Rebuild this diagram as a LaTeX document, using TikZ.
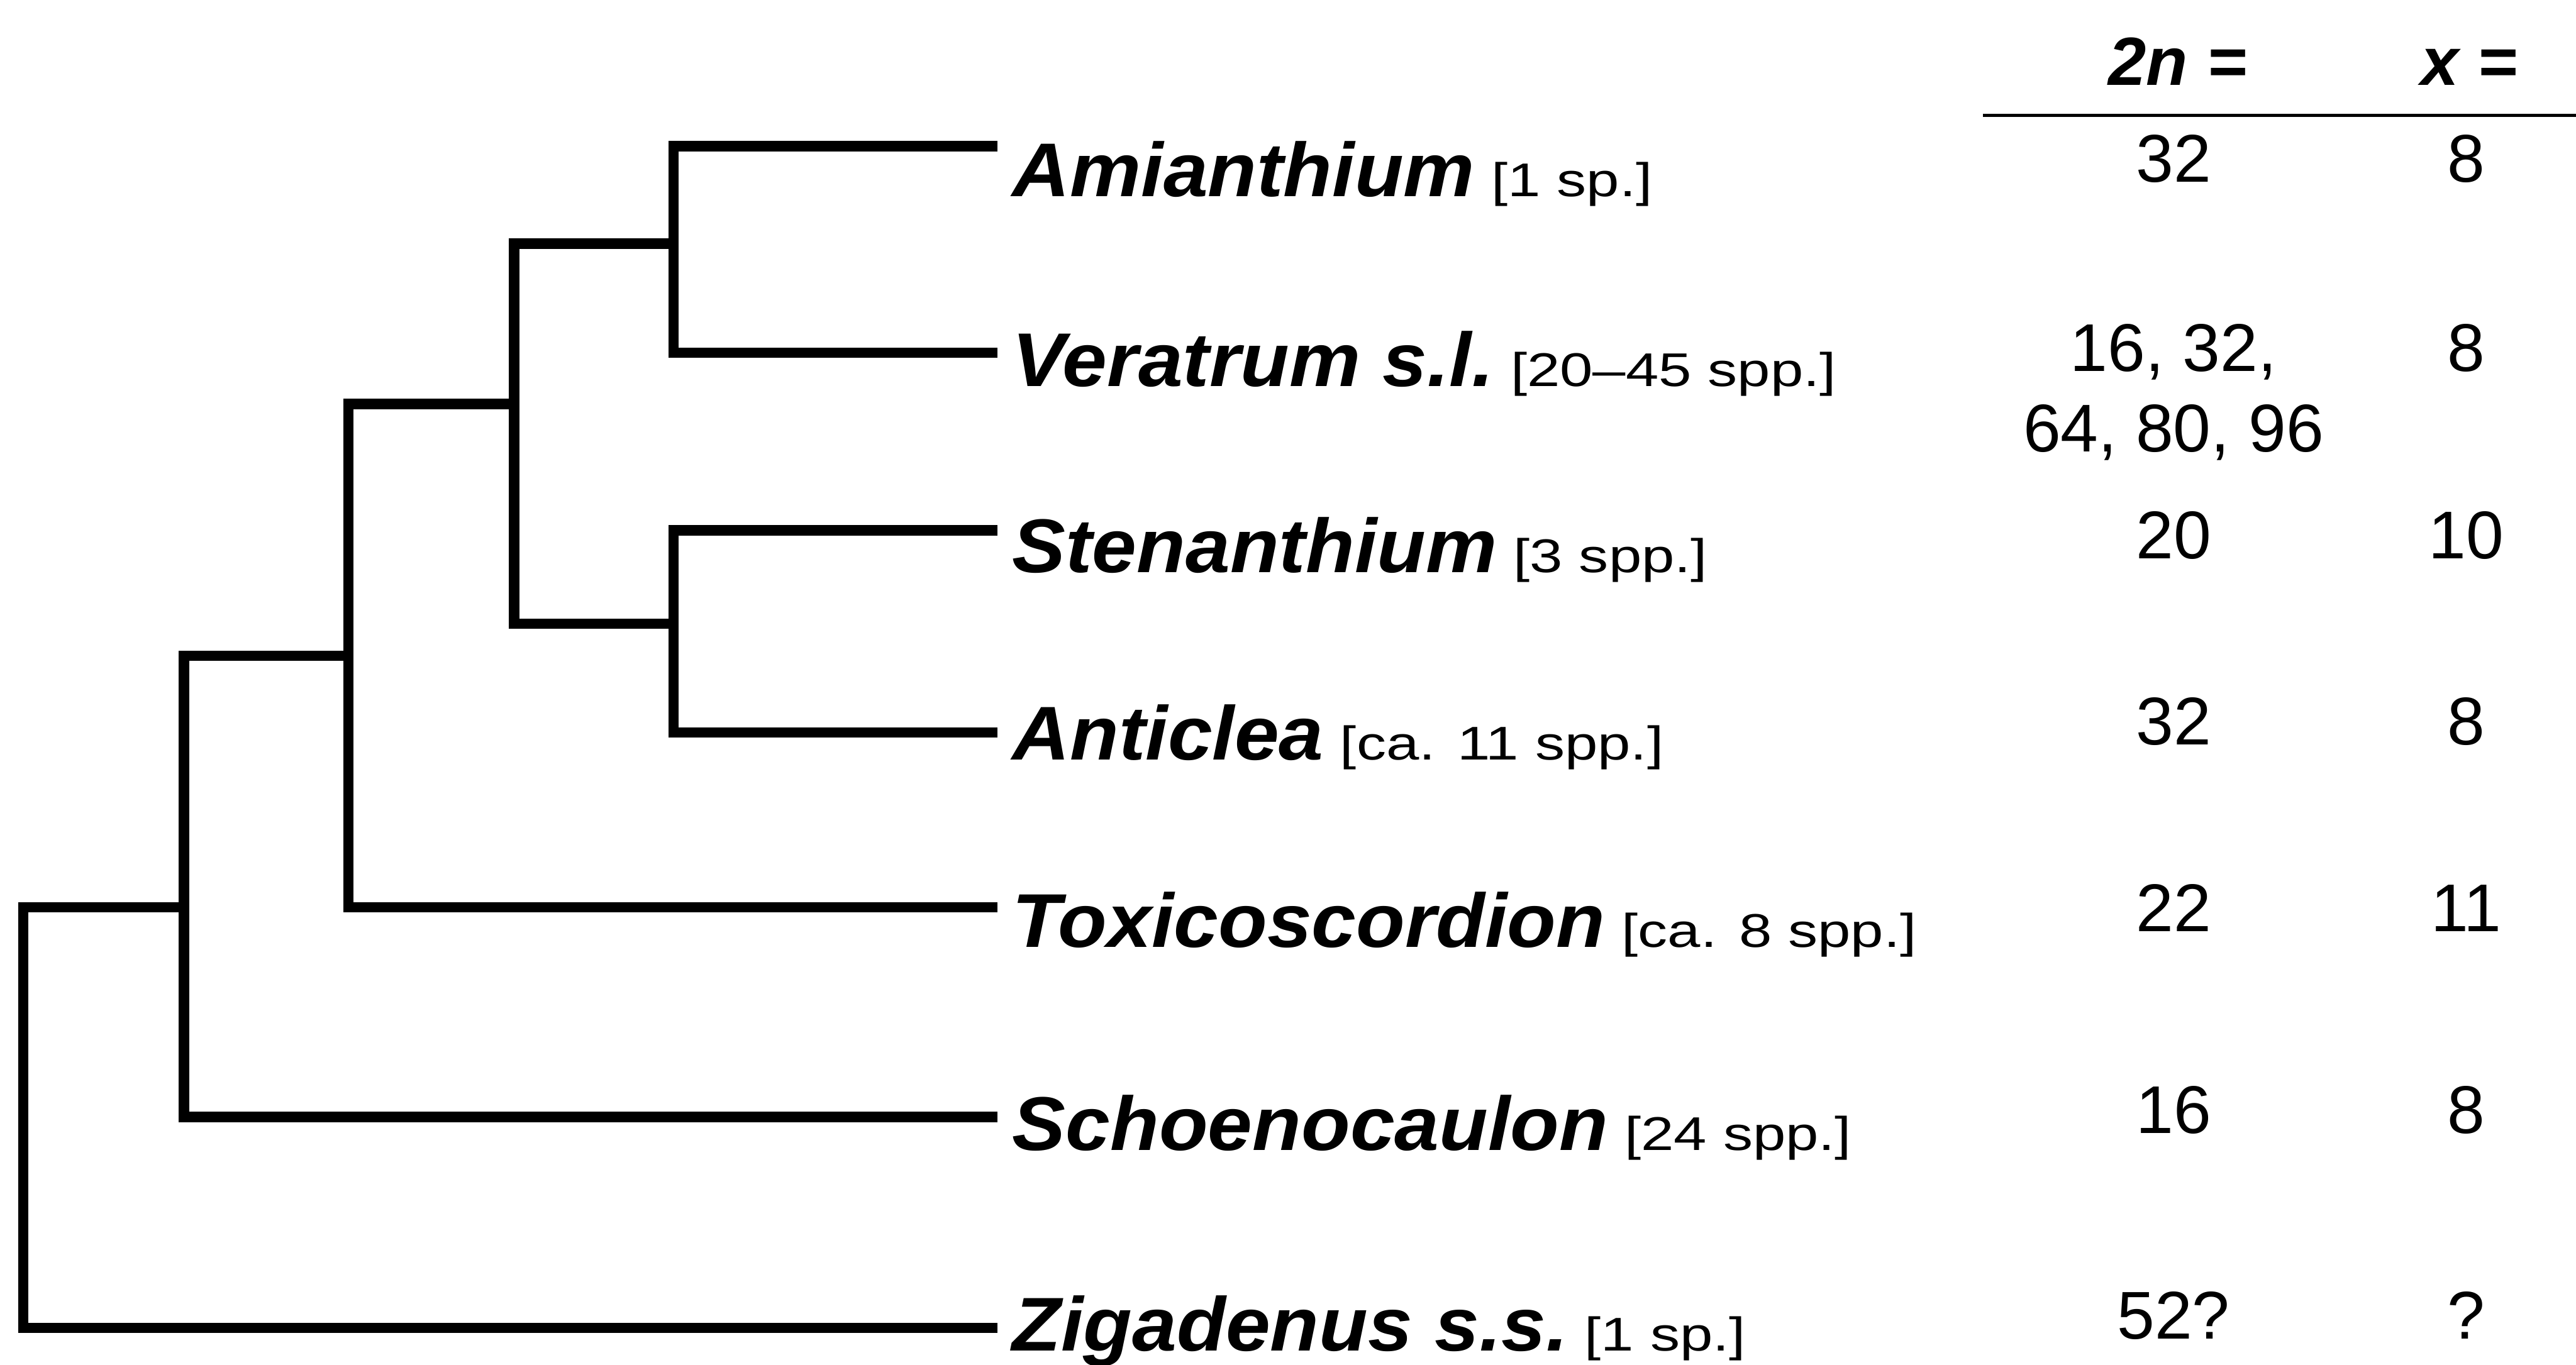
\documentclass[tikz,border=0pt]{standalone}
\usepackage{fontspec}
\setmainfont{Liberation Sans}
\newfontfamily\taxonfont[FakeStretch=1.05]{Liberation Sans}
\newfontfamily\sppfont[FakeStretch=1.25]{Liberation Sans}
\newcommand{\spp}[1]{{\normalfont\sppfont\fontsize{8.2}{9.8}\selectfont\ [#1]}}

\begin{document}
\begin{tikzpicture}[x=1cm, y=-1cm,
    branch/.style={line width=1.8pt},
    taxon/.style={anchor=base west, inner sep=0pt,
        font=\taxonfont\bfseries\itshape\fontsize{13.2}{15.8}\selectfont},
    chromo/.style={anchor=base, inner sep=0pt, align=center,
        font=\fontsize{11.7}{13.9}\selectfont},
    colhead/.style={anchor=base, inner sep=0pt,
        font=\bfseries\itshape\fontsize{11.8}{14}\selectfont}]

    \useasboundingbox (0,0) rectangle (15.68,8.31);

    % Tips of the branches
    \coordinate (amTip) at (6.07,0.890);
    \coordinate (veTip) at (6.07,2.148);
    \coordinate (stTip) at (6.07,3.228);
    \coordinate (anTip) at (6.07,4.459);
    \coordinate (toTip) at (6.07,5.524);
    \coordinate (scTip) at (6.07,6.800);
    \coordinate (ziTip) at (6.07,8.084);

    % Inner nodes of the tree
    \coordinate (n1) at (4.10,1.484);
    \coordinate (n3) at (4.10,3.798);
    \coordinate (n2) at (3.13,2.460);
    \coordinate (n4) at (2.12,3.993);
    \coordinate (n5) at (1.12,5.524);
    \coordinate (root) at (0.142,6.800);

    % Draw the tree
    \draw[branch] (amTip) -| (n1) |- (veTip);
    \draw[branch] (stTip) -| (n3) |- (anTip);
    \draw[branch] (n1) -| (n2) |- (n3);
    \draw[branch] (n2) -| (n4) |- (toTip);
    \draw[branch] (n4) -| (n5) |- (scTip);
    \draw[branch] (n5) -| (root) |- (ziTip);

    % Names of the genera
    \node[taxon] (am) at (6.155,1.197) {Amianthium\spp{1 sp.}};
    \node[taxon] (ve) at (6.155,2.351) {Veratrum s.l.\spp{20–45 spp.}};
    \node[taxon] (st) at (6.155,3.484) {Stenanthium\spp{3 spp.}};
    \node[taxon] (an) at (6.155,4.627) {Anticlea\spp{ca. 11 spp.}};
    \node[taxon] (to) at (6.155,5.767) {Toxicoscordion\spp{ca. 8 spp.}};
    \node[taxon] (sc) at (6.155,7.002) {Schoenocaulon\spp{24 spp.}};
    \node[taxon] (zi) at (6.155,8.223) {Zigadenus s.s.\spp{1 sp.}};

    % Column heads and rule
    \node[colhead] (hdN) at (13.255,0.517) {2n =};
    \node[colhead] (hdX) at (15.03,0.517) {x =};
    \coordinate (ruleL) at (12.07,0.703);
    \coordinate (ruleR) at (15.68,0.703);
    \draw[line width=0.6pt] (ruleL) -- (ruleR);

    % Chromosome numbers (base of a two-line node is its last line)
    \node[chromo] (am2n) at (13.23,1.108) {32};
    \node[chromo] (ve2n) at (13.23,2.749) {16, 32,\\64, 80, 96};
    \node[chromo] (st2n) at (13.23,3.402) {20};
    \node[chromo] (an2n) at (13.23,4.535) {32};
    \node[chromo] (to2n) at (13.23,5.673) {22};
    \node[chromo] (sc2n) at (13.23,6.900) {16};
    \node[chromo] (zi2n) at (13.23,8.150) {52?};

    \node[chromo] (amX) at (15.01,1.108) {8};
    \node[chromo] (veX) at (15.01,2.260) {8};
    \node[chromo] (stX) at (15.01,3.402) {10};
    \node[chromo] (anX) at (15.01,4.535) {8};
    \node[chromo] (toX) at (15.01,5.673) {11};
    \node[chromo] (scX) at (15.01,6.900) {8};
    \node[chromo] (ziX) at (15.01,8.150) {?};

\end{tikzpicture}
\end{document}
